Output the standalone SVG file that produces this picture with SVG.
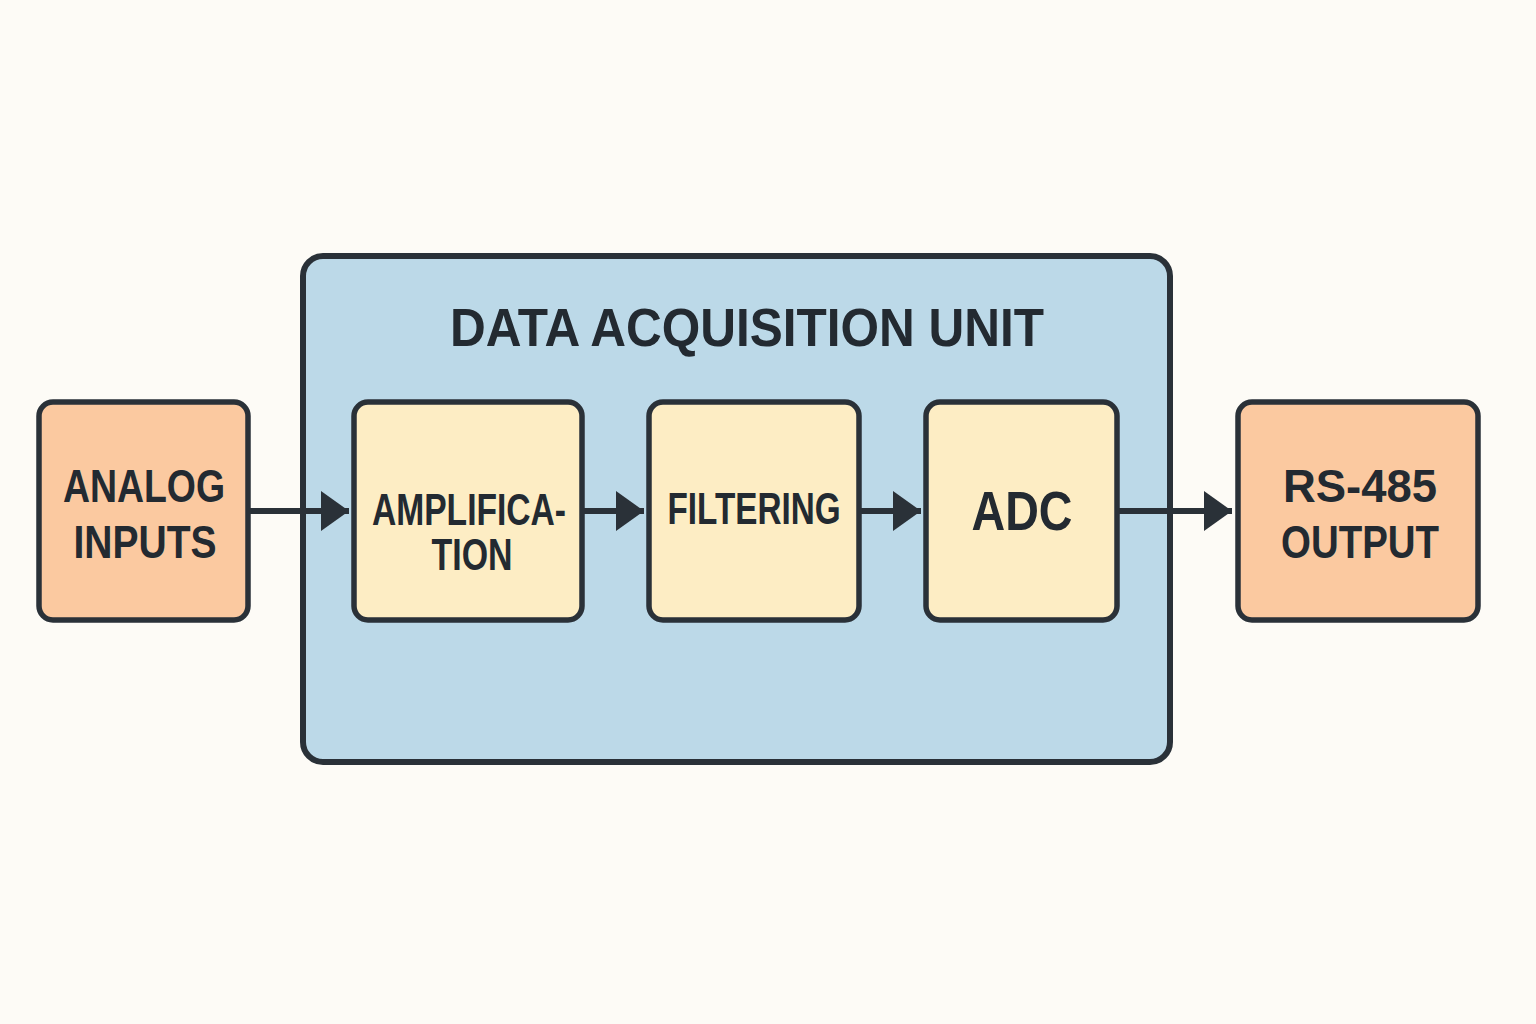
<svg xmlns="http://www.w3.org/2000/svg" width="1536" height="1024" viewBox="0 0 1536 1024">
<defs>
<marker id="arr" markerUnits="userSpaceOnUse" markerWidth="30" markerHeight="42" refX="28" refY="21" orient="auto">
<path d="M0,1 L28,21 L0,41 Z" fill="#2a3138"/>
</marker>
<style>
.box{stroke:#2a3138;stroke-width:5.5}
.io{fill:#fbc9a0}
.blk{fill:#fdedc4}
.unit{fill:#bcd9e8;stroke:#2a3138;stroke-width:6}
.t{font-family:"Liberation Sans","DejaVu Sans",Arial,sans-serif;font-weight:700;fill:#232a31;text-anchor:middle}
.c{stroke:#2a3138;stroke-width:6;fill:none;marker-end:url(#arr)}
</style>
</defs>
<rect width="1536" height="1024" fill="#fdfbf6"/>
<g id="unit">
<rect class="unit" x="303" y="256" width="867" height="506" rx="20"/>
<text class="t" x="747" y="346" font-size="54" textLength="594" lengthAdjust="spacingAndGlyphs">DATA ACQUISITION UNIT</text>
</g>
<g id="analog-inputs">
<rect class="box io" x="39" y="402" width="209" height="218" rx="14"/>
<text class="t" x="144" y="502" font-size="47" textLength="162" lengthAdjust="spacingAndGlyphs">ANALOG</text>
<text class="t" x="145" y="558" font-size="47" textLength="143" lengthAdjust="spacingAndGlyphs">INPUTS</text>
</g>
<g id="amplification">
<rect class="box blk" x="354" y="402" width="228" height="218" rx="14"/>
<text class="t" x="469" y="525" font-size="44" textLength="194" lengthAdjust="spacingAndGlyphs">AMPLIFICA-</text>
<text class="t" x="472" y="570" font-size="44" textLength="81" lengthAdjust="spacingAndGlyphs">TION</text>
</g>
<g id="filtering">
<rect class="box blk" x="649" y="402" width="210" height="218" rx="14"/>
<text class="t" x="754" y="524" font-size="44" textLength="173" lengthAdjust="spacingAndGlyphs">FILTERING</text>
</g>
<g id="adc">
<rect class="box blk" x="926" y="402" width="191" height="218" rx="14"/>
<text class="t" x="1022" y="530" font-size="56" textLength="101" lengthAdjust="spacingAndGlyphs">ADC</text>
</g>
<g id="rs485-output">
<rect class="box io" x="1238" y="402" width="240" height="218" rx="14"/>
<text class="t" x="1360" y="502" font-size="47" textLength="154" lengthAdjust="spacingAndGlyphs">RS-485</text>
<text class="t" x="1360" y="558" font-size="47" textLength="158" lengthAdjust="spacingAndGlyphs">OUTPUT</text>
</g>
<g id="connectors">
<line class="c" x1="248" y1="511" x2="349" y2="511"/>
<line class="c" x1="582" y1="511" x2="644" y2="511"/>
<line class="c" x1="859" y1="511" x2="921" y2="511"/>
<line class="c" x1="1117" y1="511" x2="1232" y2="511"/>
</g>
</svg>
